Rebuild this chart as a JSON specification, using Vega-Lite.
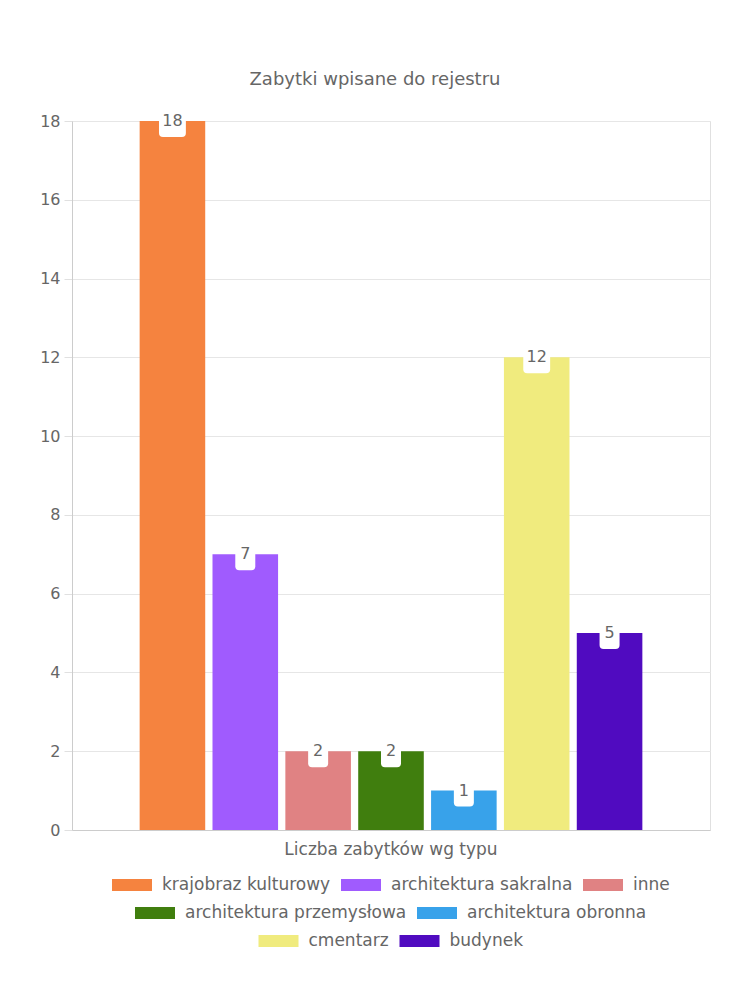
{
  "$schema": "https://vega.github.io/schema/vega-lite/v6.json",
  "width": 638,
  "height": 709,
  "autosize": {"type": "none"},
  "padding": {"left": 72, "top": 121, "right": 40, "bottom": 170},
  "background": "white",
  "title": {
    "text": "Zabytki wpisane do rejestru",
    "fontSize": 18,
    "font": "DejaVu Sans",
    "fontWeight": "normal",
    "color": "#666666",
    "anchor": "middle",
    "offset": 16,
    "dx": -16
  },
  "data": {
    "values": [
      {"kategoria": "Liczba zabytków wg typu", "typ": "krajobraz kulturowy", "liczba": 18},
      {"kategoria": "Liczba zabytków wg typu", "typ": "architektura sakralna", "liczba": 7},
      {"kategoria": "Liczba zabytków wg typu", "typ": "inne", "liczba": 2},
      {"kategoria": "Liczba zabytków wg typu", "typ": "architektura przemysłowa", "liczba": 2},
      {"kategoria": "Liczba zabytków wg typu", "typ": "architektura obronna", "liczba": 1},
      {"kategoria": "Liczba zabytków wg typu", "typ": "cmentarz", "liczba": 12},
      {"kategoria": "Liczba zabytków wg typu", "typ": "budynek", "liczba": 5}
    ]
  },
  "encoding": {
    "x": {
      "field": "kategoria",
      "type": "nominal",
      "scale": {"paddingInner": 0, "paddingOuter": 0.1255},
      "axis": {
        "title": null,
        "labelAngle": 0,
        "ticks": false,
        "grid": false,
        "domainColor": "#cccccc",
        "labelFontSize": 17,
        "labelFont": "DejaVu Sans",
        "labelColor": "#666666",
        "labelPadding": 11,
        "labelLimit": 500
      }
    },
    "xOffset": {
      "field": "typ",
      "type": "nominal",
      "scale": {
        "domain": ["krajobraz kulturowy", "architektura sakralna", "inne", "architektura przemysłowa", "architektura obronna", "cmentarz", "budynek"],
        "paddingInner": 0.1,
        "paddingOuter": 0.05
      }
    },
    "y": {
      "field": "liczba",
      "type": "quantitative",
      "scale": {"domain": [0, 18], "nice": false},
      "axis": {
        "title": null,
        "values": [0, 2, 4, 6, 8, 10, 12, 14, 16, 18],
        "tickSize": 8,
        "labelPadding": 4,
        "labelFontSize": 16,
        "labelFont": "DejaVu Sans",
        "labelColor": "#666666",
        "gridColor": "#e6e6e6",
        "tickColor": "#e0e0e0",
        "domainColor": "#cccccc"
      }
    }
  },
  "layer": [
    {
      "transform": [{"filter": "indexof(['krajobraz kulturowy','architektura sakralna','inne'], datum.typ) >= 0"}],
      "mark": {"type": "bar"},
      "encoding": {
        "color": {
          "field": "typ",
          "type": "nominal",
          "scale": {"domain": ["krajobraz kulturowy", "architektura sakralna", "inne"], "range": ["#F5833F", "#A05BFE", "#E08283"]},
          "legend": {"title": null}
        }
      }
    },
    {
      "transform": [{"filter": "indexof(['architektura przemysłowa','architektura obronna'], datum.typ) >= 0"}],
      "mark": {"type": "bar"},
      "encoding": {
        "color": {
          "field": "typ",
          "type": "nominal",
          "scale": {"domain": ["architektura przemysłowa", "architektura obronna"], "range": ["#407E0E", "#38A2EA"]},
          "legend": {"title": null}
        }
      }
    },
    {
      "transform": [{"filter": "indexof(['cmentarz','budynek'], datum.typ) >= 0"}],
      "mark": {"type": "bar"},
      "encoding": {
        "color": {
          "field": "typ",
          "type": "nominal",
          "scale": {"domain": ["cmentarz", "budynek"], "range": ["#F0EB7E", "#500BC0"]},
          "legend": {"title": null}
        }
      }
    },
    {
      "transform": [{"filter": "datum.liczba < 10"}],
      "mark": {
        "type": "point",
        "shape": "M-0.625,-1L0.625,-1L0.625,0.75Q0.625,1 0.375,1L-0.375,1Q-0.625,1 -0.625,0.75Z",
        "size": 1024,
        "filled": true,
        "color": "white",
        "opacity": 1,
        "strokeWidth": 0
      }
    },
    {
      "transform": [{"filter": "datum.liczba >= 10"}],
      "mark": {
        "type": "point",
        "shape": "M-0.84,-1L0.84,-1L0.84,0.75Q0.84,1 0.59,1L-0.59,1Q-0.84,1 -0.84,0.75Z",
        "size": 1024,
        "filled": true,
        "color": "white",
        "opacity": 1,
        "strokeWidth": 0
      }
    },
    {
      "mark": {
        "type": "text",
        "baseline": "middle",
        "align": "center",
        "fontSize": 16,
        "font": "DejaVu Sans",
        "color": "#666666"
      },
      "encoding": {"text": {"field": "liczba", "type": "quantitative"}}
    }
  ],
  "resolve": {"scale": {"color": "independent"}, "legend": {"color": "independent"}},
  "config": {
    "view": {"stroke": "#e0e0e0"},
    "legend": {
      "orient": "bottom",
      "direction": "horizontal",
      "symbolType": "M-1,-0.3L1,-0.3L1,0.3L-1,0.3Z",
      "symbolSize": 1600,
      "symbolStrokeWidth": 0,
      "symbolOpacity": 1,
      "labelFontSize": 17,
      "labelFont": "DejaVu Sans",
      "labelColor": "#666666",
      "labelOffset": 10,
      "columnPadding": 10,
      "labelLimit": 400,
      "padding": 0,
      "offset": 8,
      "layout": {"bottom": {"anchor": "middle", "direction": "vertical", "center": true, "margin": 0}}
    }
  }
}
